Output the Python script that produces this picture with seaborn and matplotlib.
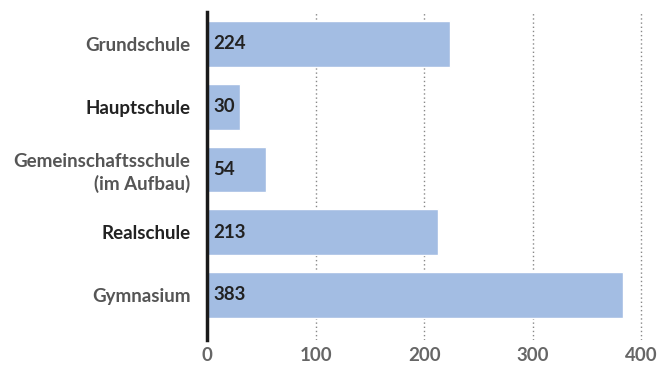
import matplotlib
matplotlib.use("Agg")
import matplotlib.pyplot as plt
import seaborn as sns
import pandas as pd

categories = ["Grundschule", "Hauptschule", "Gemeinschaftsschule\n(im Aufbau)", "Realschule", "Gymnasium"]
values = [224, 30, 54, 213, 383]
label_colors = ["#555555", "#222222", "#555555", "#222222", "#555555"]
x_ticks = [0, 100, 200, 300, 400]

sns.set_theme(style="white")
plt.rcParams["font.family"] = ["Lato", "DejaVu Sans"]

df = pd.DataFrame({"Schulart": categories, "Anzahl": values})

fig = plt.figure(figsize=(6.72, 3.65), dpi=100)
ax = fig.add_axes([207 / 672, 25 / 365, 445 / 672, 328 / 365])

sns.barplot(data=df, x="Anzahl", y="Schulart", color="#a3bde3", saturation=1,
            width=0.73, ax=ax, zorder=2)

ax.set_xlim(0, 410)
ax.set_ylim(4.72, -0.51)
ax.set_xticks(x_ticks)
ax.set_xticklabels([str(t) for t in x_ticks], fontsize=13.5, color="#666666", fontweight="bold")
ax.set_yticks(range(len(categories)))
ax.set_yticklabels(categories, fontsize=13.5, fontweight="bold")
for lbl, c in zip(ax.get_yticklabels(), label_colors):
    lbl.set_color(c)
    lbl.set_linespacing(1.3)
ax.tick_params(axis="x", length=0, pad=5)
ax.tick_params(axis="y", length=0, pad=12)
ax.set_xlabel("")
ax.set_ylabel("")

for x in x_ticks[1:]:
    ax.axvline(x, color="#888888", linestyle=(0, (1, 2)), linewidth=1, zorder=1)

for i, v in enumerate(values):
    ax.text(6, i, str(v), va="center", ha="left", fontsize=13.5,
            fontweight="bold", color="#222222", zorder=3)

for s in ["top", "right", "bottom"]:
    ax.spines[s].set_visible(False)
ax.spines["left"].set_color("#1a1a1a")
ax.spines["left"].set_linewidth(2.5)
ax.spines["left"].set_zorder(4)

fig.savefig("out.png", dpi=100)
